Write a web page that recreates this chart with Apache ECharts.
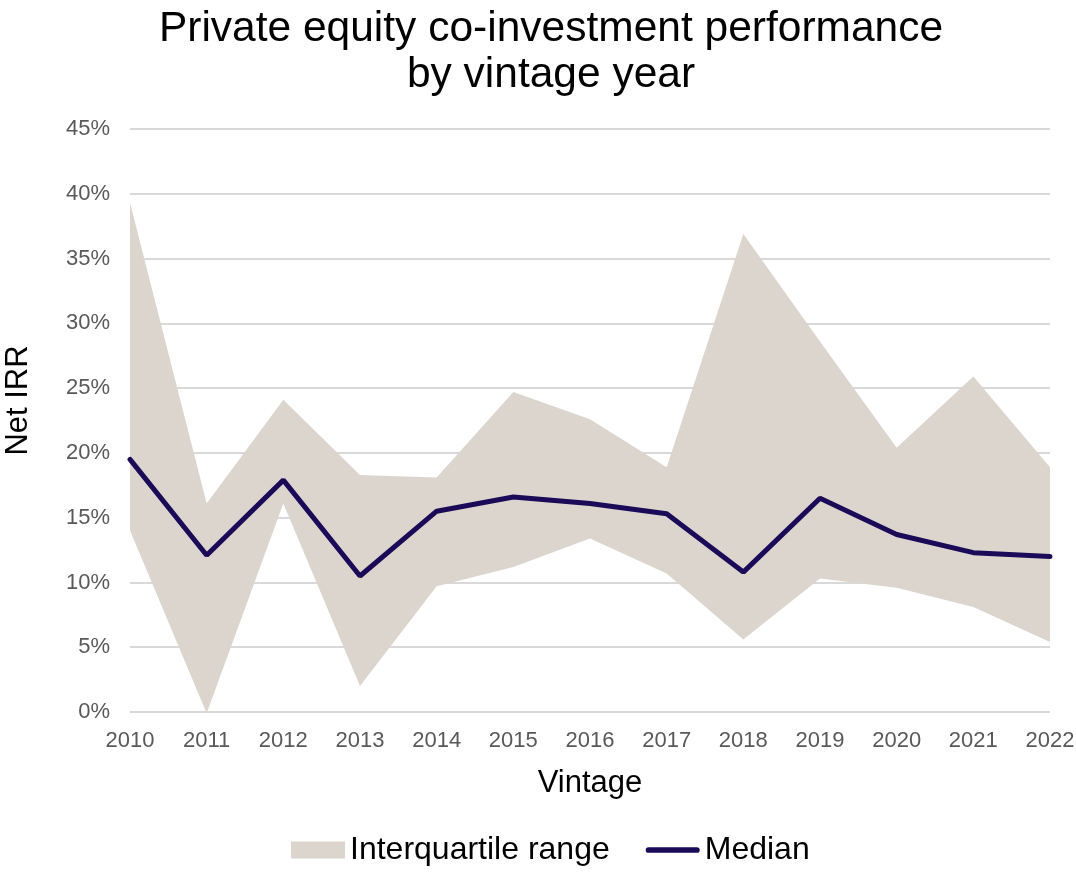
<!DOCTYPE html>
<html>
<head>
<meta charset="utf-8">
<script src="https://cdn.jsdelivr.net/npm/echarts@6/dist/echarts.min.js"></script>
<style>
  html, body { margin: 0; padding: 0; background: #fff; }
  #main { width: 1076px; height: 877px; }
</style>
</head>
<body>
<div id="main"></div>
<script>
// vintage years
const years = ['2010', '2011', '2012', '2013', '2014', '2015', '2016', '2017', '2018', '2019', '2020', '2021', '2022']
// net IRR, percent
const upperQuartile = [39.3, 16.1, 24.1, 18.3, 18.1, 24.7, 22.6, 18.9, 36.9, 28.6, 20.4, 25.9, 18.9]
const lowerQuartile = [14.0, -0.1, 16.1, 2.0, 9.7, 11.2, 13.4, 10.7, 5.6, 10.3, 9.6, 8.1, 5.4]
const median = [19.5, 12.1, 17.9, 10.5, 15.5, 16.6, 16.1, 15.3, 10.8, 16.5, 13.7, 12.3, 12.0]

const font = '"Liberation Sans", Arial, sans-serif'
const chart = echarts.init(document.getElementById('main'))

chart.setOption({
  animation: false,
  textStyle: { fontFamily: font },
  title: {
    text: 'Private equity co-investment performance\nby vintage year',
    left: 546,
    textAlign: 'center',
    top: 1,
    textStyle: { fontSize: 42.5, fontWeight: 'normal', color: '#000', lineHeight: 46, fontFamily: font }
  },
  legend: {
    bottom: 6,
    left: 286,
    data: [
      { name: 'Interquartile range', icon: 'rect' },
      {
        name: 'Median',
        icon: 'path://M3,0h51a3,3 0 0 1 0,6h-51a3,3 0 0 1 0,-6z',
        symbolKeepAspect: true
      }
    ],
    itemWidth: 54,
    itemHeight: 17,
    itemGap: 36,
    textStyle: { fontSize: 32, color: '#000', fontFamily: font }
  },
  grid: { left: 130, right: 26, top: 129, bottom: 165, outerBoundsMode: 'none', containLabel: false },
  xAxis: {
    type: 'category',
    data: years,
    boundaryGap: false,
    name: 'Vintage',
    nameLocation: 'middle',
    nameGap: 56,
    nameTextStyle: { fontSize: 31, color: '#000' },
    axisLine: { show: false },
    axisTick: { show: false },
    axisLabel: { fontSize: 22, color: '#595959', margin: 18 }
  },
  yAxis: {
    type: 'value',
    min: 0,
    max: 45,
    interval: 5,
    name: 'Net IRR',
    nameLocation: 'middle',
    nameGap: 96,
    nameTextStyle: { fontSize: 31, color: '#000', padding: [0, 0, 0, 40] },
    axisLabel: { fontSize: 22, color: '#595959', margin: 20, formatter: '{value}%' },
    splitLine: { lineStyle: { color: '#d9d9d9', width: 2 } }
  },
  series: [
    {
      name: 'lower',
      type: 'line',
      stack: 'iqr',
      stackStrategy: 'all',
      data: lowerQuartile,
      symbol: 'none',
      lineStyle: { opacity: 0 },
      silent: true
    },
    {
      name: 'Interquartile range',
      type: 'line',
      stack: 'iqr',
      stackStrategy: 'all',
      data: upperQuartile.map((v, i) => +(v - lowerQuartile[i]).toFixed(2)),
      symbol: 'none',
      itemStyle: { color: '#dbd5ce' },
      lineStyle: { opacity: 0 },
      areaStyle: { color: '#dbd5ce', opacity: 1 }
    },
    {
      name: 'Median',
      type: 'line',
      data: median,
      symbol: 'none',
      itemStyle: { color: '#1b0a57' },
      lineStyle: { color: '#1b0a57', width: 5, cap: 'round' }
    }
  ]
})
</script>
</body>
</html>
